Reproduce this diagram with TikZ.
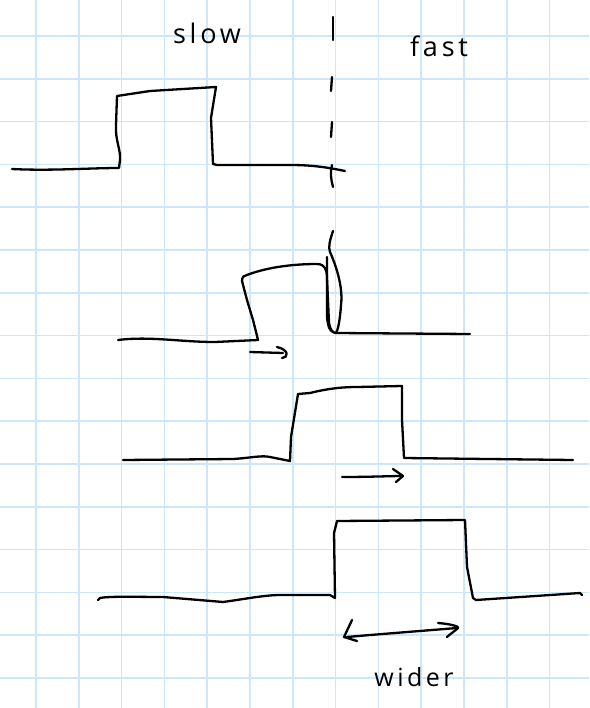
\documentclass[tikz,border=0pt]{standalone}
\usepackage{fontspec}
\setmainfont{Open Sans}
\newfontfamily\handfont[LetterSpace=14]{Open Sans}
\begin{document}
\begin{tikzpicture}[x=1pt,y=-1pt,
  ink/.style={draw=black,line width=2.3pt,line cap=round,line join=round},
  gridline/.style={draw={rgb,255:red,204;green,230;blue,250},line width=1.6pt},
  hand/.style={font=\handfont\fontsize{27}{27}\selectfont,inner sep=0pt,anchor=base}]
\useasboundingbox (0,0) rectangle (589,708);
\fill[white] (0,0) rectangle (589,708);
% grid
\foreach \i in {0,...,12} { \draw[gridline] ({36+42.8*\i},0) -- ({36+42.8*\i},708); }
\foreach \j in {0,...,15} { \draw[gridline] (0,{36+42.8*\j}) -- (589,{36+42.8*\j}); }
% labels
\node[hand] (slow) at (207,44) {slow};
\node[hand] (fast) at (439,57) {fast};
\node[hand,font=\handfont\fontsize{25}{25}\selectfont] (wider) at (414,686) {wider};
% dashed divider
\draw[ink] (333,17) -- (333,40);
\draw[ink] (332,77) -- (331,91);
\draw[ink] (332,122) -- (331,137);
\draw[ink] (332,165) .. controls (330,172) and (331,180) .. (333,187);
% panel 1
\draw[ink] (12,169) .. controls (50,171) and (90,168) .. (119,168)
  -- (120,160) .. controls (121,150) and (115,140) .. (116,125) -- (117,96)
  -- (150,91) -- (216,87)
  -- (211,118) -- (213,164)
  -- (217,165) -- (290,165) .. controls (315,165) and (330,168) .. (345,171);
% panel 2
\draw[ink] (118,340) .. controls (150,336) and (180,342) .. (215,342) -- (258,340)
  -- (253,320) -- (247,300) -- (242,281) .. controls (242,277) and (244,275) .. (247,275)
  .. controls (265,268) and (290,264) .. (317,264) .. controls (325,264) and (327,270) .. (327,278)
  -- (329,323) .. controls (330,330) and (333,333) .. (336,333) -- (470,334);
\draw[ink] (333,231) .. controls (330,240) and (328,247) .. (330,252)
  .. controls (338,270) and (343,290) .. (341,305) .. controls (340,320) and (338,330) .. (336,333);
\draw[ink] (327,257) -- (327,317) .. controls (328,327) and (330,331) .. (333,332);
\draw[ink] (250,352) -- (283,353);
\draw[ink] (277,347) .. controls (290,350) and (288,358) .. (282,358);
% panel 3
\draw[ink] (123,460) -- (233,459) .. controls (250,458) and (262,455) .. (270,457) -- (290,461)
  -- (291,437) -- (298,394) -- (310,393) .. controls (330,388) and (345,387) .. (357,387)
  -- (402,386) -- (402,420) -- (404,458) -- (573,460);
\draw[ink] (342,477) .. controls (370,477) and (390,476) .. (403,476);
\draw[ink] (393,469) -- (403,476) -- (396,482);
% panel 4
\draw[ink] (98,600) -- (100,598) .. controls (110,596) and (140,597) .. (163,597) -- (223,602)
  .. controls (245,599) and (265,595) .. (280,595) -- (330,595) -- (335,598)
  -- (334,533) -- (337,521) -- (465,520) -- (467,567) -- (473,598) -- (476,600)
  -- (580,593) -- (582,595);
\draw[ink] (352,620) -- (344,637) -- (357,641);
\draw[ink] (347,637) -- (370,635) -- (457,628);
\draw[ink] (438,623) .. controls (452,624) and (460,627) .. (458,628) .. controls (455,631) and (450,634) .. (447,637);
\end{tikzpicture}
\end{document}
